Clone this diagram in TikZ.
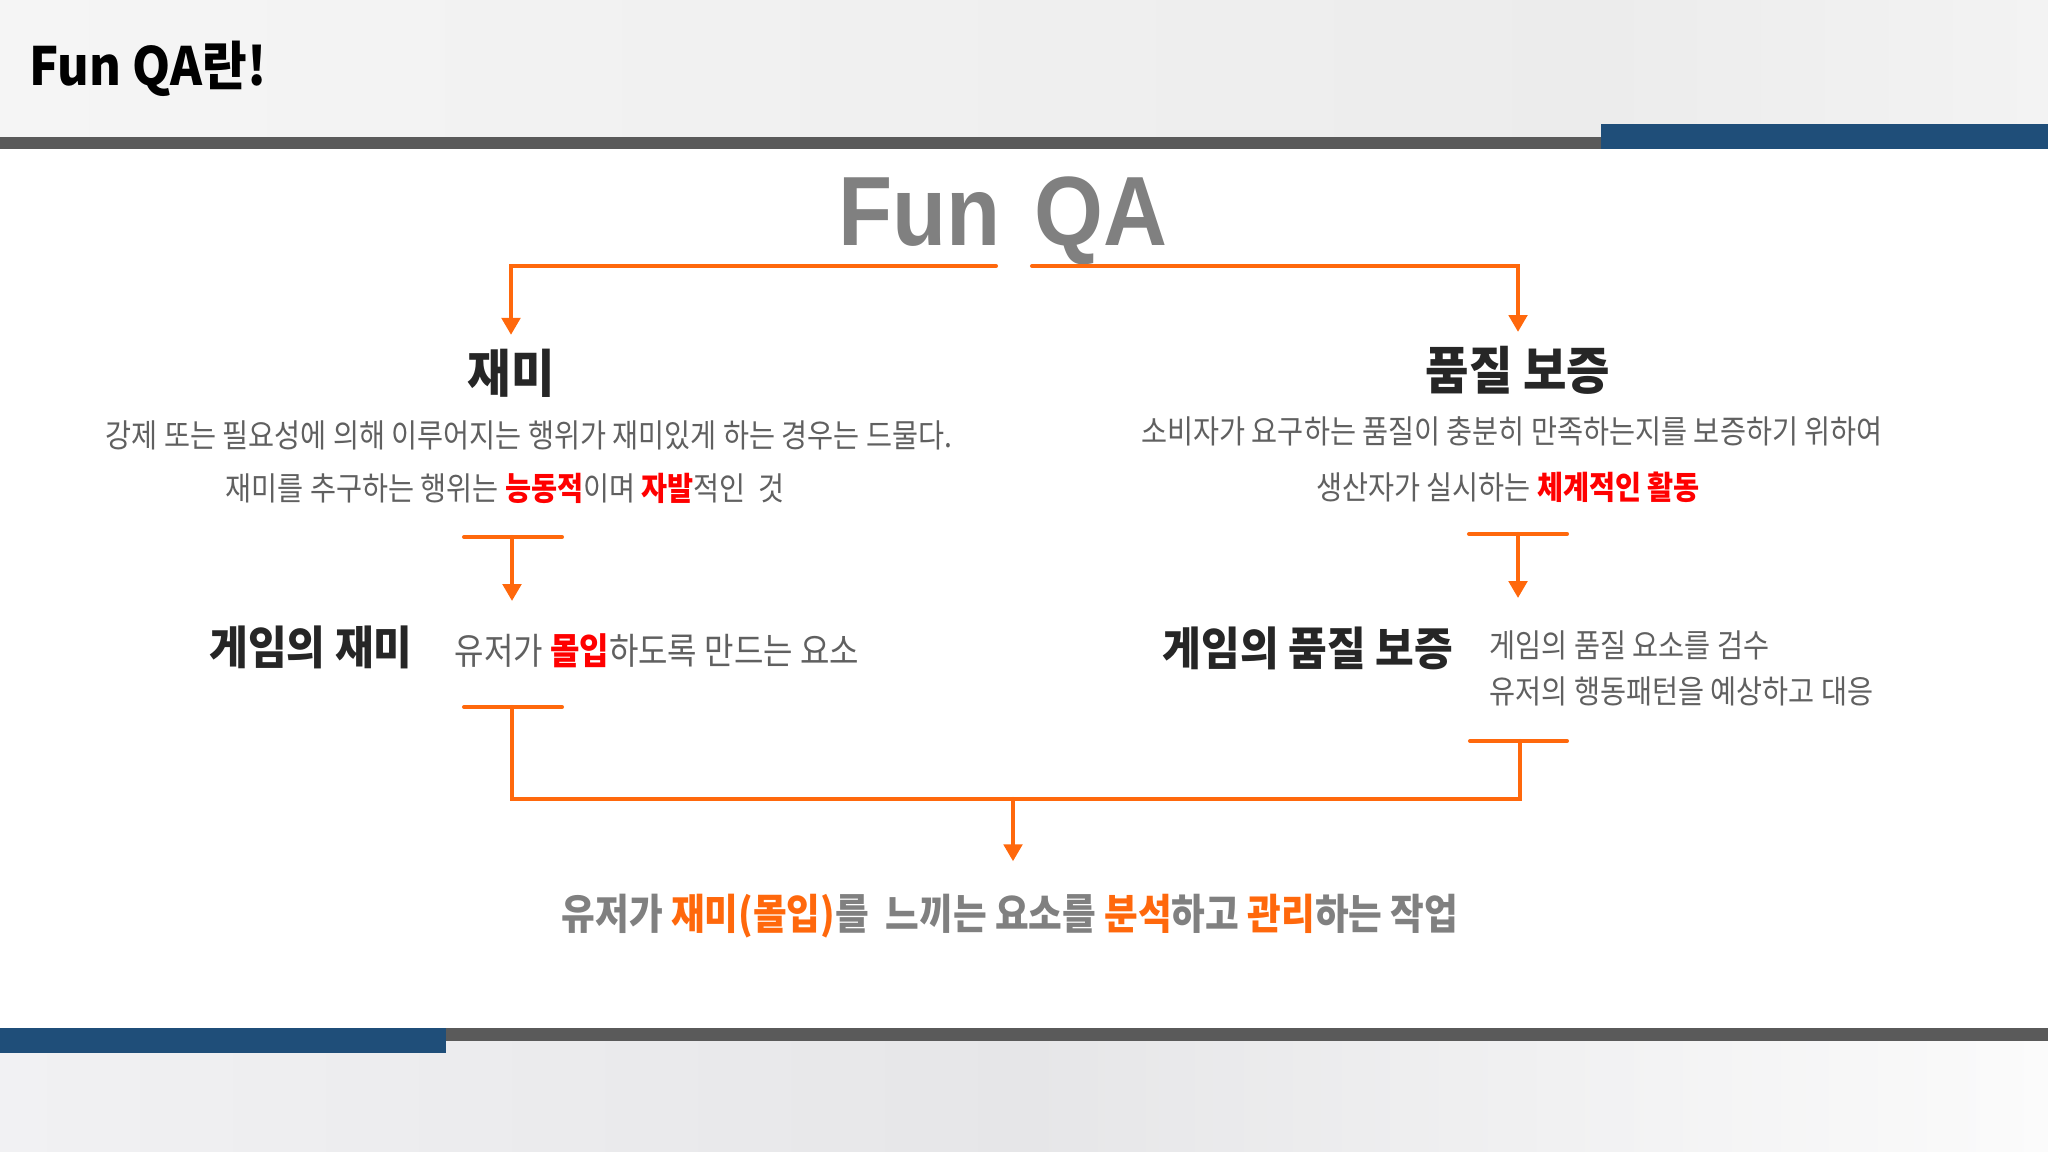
\documentclass[tikz,border=0pt]{standalone}
\usepackage{fontspec}
\setmainfont{Noto Sans CJK KR}
\newfontfamily\krbody{Noto Sans CJK KR}[FakeStretch=0.875]
\newfontfamily\krhead{Noto Sans CJK KR}[FakeStretch=0.92]
\newfontfamily\qalatin{Liberation Sans}[FakeStretch=0.9]
\usepackage{tikz}
\usetikzlibrary{arrows.meta,positioning}
\tikzset{>={Triangle[length=4.8pt,width=5.2pt]}}

\definecolor{qaorange}{RGB}{255,104,12}
\definecolor{qared}{RGB}{255,0,0}
\definecolor{qablue}{RGB}{31,78,121}
\definecolor{qabar}{RGB}{90,90,90}
\definecolor{qabody}{RGB}{96,96,96}
\definecolor{qahead}{RGB}{38,38,38}
\definecolor{qagray}{RGB}{128,128,128}
\definecolor{bandA}{RGB}{245,245,245}
\definecolor{bandB}{RGB}{236,236,236}
\definecolor{bandC}{RGB}{243,243,243}
\definecolor{footA}{RGB}{241,241,243}
\definecolor{footB}{RGB}{230,230,232}
\definecolor{footC}{RGB}{251,251,251}

\begin{document}
\begin{tikzpicture}[x=0.01cm, y=-0.01cm,
    flow/.style={qaorange, line width=1.15pt, line cap=round},
    txt/.style={inner sep=0pt, anchor=base},
    bigtitle/.style={txt, text=qahead, inner ysep=4pt, font=\krhead\fontsize{14.6}{16}\selectfont\bfseries},
    subtitle/.style={txt, text=qahead, font=\krhead\fontsize{13}{14}\selectfont\bfseries},
    bodytext/.style={txt, text=qabody, font=\krbody\fontsize{9.2}{11}\selectfont}]

        % page
        \useasboundingbox (0,0) rectangle (2048,1152);
        \fill[white] (0,0) rectangle (2048,1152);
        \shade[left color=bandA, right color=bandB] (0,0) rectangle (1601,137);
        \shade[left color=bandB, right color=bandC] (1601,0) rectangle (2048,124);
        \shade[left color=footA, right color=footB] (0,1041) rectangle (1024,1152);
        \shade[left color=footB, right color=footC] (1024,1041) rectangle (2048,1152);
        \fill[qabar] (0,137) rectangle (1601,149);
        \fill[qablue] (1601,124) rectangle (2048,149);
        \fill[qabar] (446,1028) rectangle (2048,1041);
        \fill[qablue] (0,1028) rectangle (446,1053);

        \node[txt, anchor=base west, font=\krhead\fontsize{15}{18}\selectfont\bfseries] (title) at (29,86) {Fun QA란!};

        % top
        \node[txt, text=qagray, font=\qalatin\fontsize{28}{30}\selectfont\bfseries] (funqa) at (1003,246) {Fun\hspace{0.35em}QA};
        \coordinate (funL) at (996,266);
        \coordinate (funR) at (1032,266);

        \node[bigtitle] (fun) at (511,393) {재미};
        \node[bigtitle] (quality) at (1518,390) {품질 보증};

        \draw[flow,->] (funL) -| (fun.north);
        \draw[flow,->] (funR) -| (quality.north);

        \node[bodytext] (funA) at (529,448) {강제 또는 필요성에 의해 이루어지는 행위가 재미있게 하는 경우는 드물다.};
        \node[bodytext] (funB) at (505,501) {재미를 추구하는 행위는 {\color{qared}\bfseries 능동적}이며 {\color{qared}\bfseries 자발}적인~ 것};
        \node[bodytext] (qualA) at (1512,444) {소비자가 요구하는 품질이 충분히 만족하는지를 보증하기 위하여};
        \node[bodytext] (qualB) at (1508,500) {생산자가 실시하는 {\color{qared}\bfseries 체계적인 활동}};

        % middle
        \coordinate (barFunL) at (464,537);
        \coordinate (barFunR) at (562,537);
        \coordinate (teeFun) at (512,537);
        \coordinate (tipFun) at (512,601);
        \coordinate (barQualL) at (1469,534);
        \coordinate (barQualR) at (1567,534);
        \coordinate (teeQual) at (1518,534);
        \coordinate (tipQual) at (1518,598);
        \draw[flow] (barFunL) -- (barFunR);
        \draw[flow,->] (teeFun) -- (tipFun);
        \draw[flow] (barQualL) -- (barQualR);
        \draw[flow,->] (teeQual) -- (tipQual);

        \node[subtitle] (gameFun) at (311,665) {게임의 재미};
        \node[bodytext, anchor=base west, font=\krbody\fontsize{10.4}{12}\selectfont] (gameFunTxt) at (454,664) {유저가 {\color{qared}\bfseries 몰입}하도록 만드는 요소};
        \node[subtitle] (gameQual) at (1308,666) {게임의 품질 보증};
        \node[bodytext, anchor=base west, align=left, font=\krbody\fontsize{9.2}{13}\selectfont] (gameQualTxt) at (1489,703) {게임의 품질 요소를 검수\\유저의 행동패턴을 예상하고 대응};

        % bottom
        \coordinate (lowFunL) at (464,707);
        \coordinate (lowFunR) at (562,707);
        \coordinate (lowFun) at (512,707);
        \coordinate (lowQualL) at (1470,741);
        \coordinate (lowQualR) at (1567,741);
        \coordinate (lowQual) at (1520,741);
        \coordinate (join) at (1013,799);
        \draw[flow] (lowFunL) -- (lowFunR);
        \draw[flow] (lowQualL) -- (lowQualR);
        \draw[flow] (lowFun) |- (join) -| (lowQual);

        \node[txt, text=qagray, inner ysep=9pt, font=\krbody\fontsize{11.9}{14}\selectfont\bfseries] (summary) at (1010,929)
            {유저가 {\color{qaorange}재미(몰입)}를~ 느끼는 요소를 {\color{qaorange}분석}하고 {\color{qaorange}관리}하는 작업};
        \draw[flow,->] (join) -- (join |- summary.north);
\end{tikzpicture}
\end{document}
